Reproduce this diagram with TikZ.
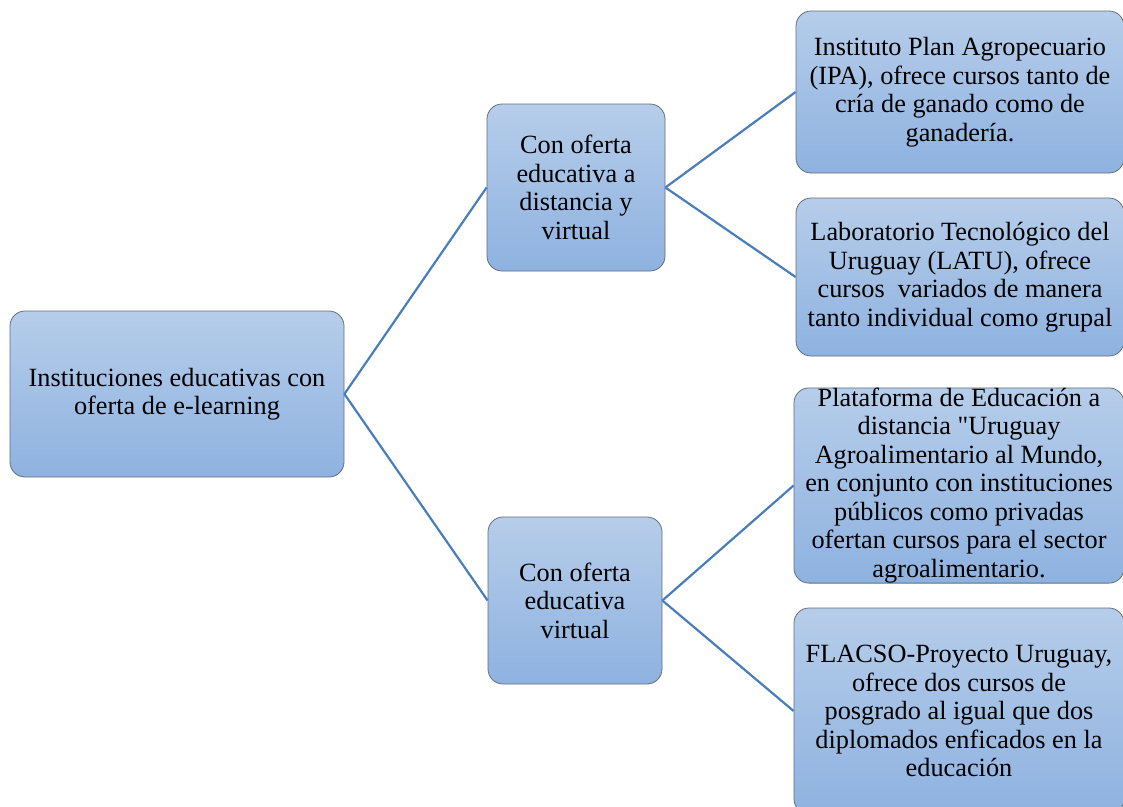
\documentclass[tikz,border=0pt]{standalone}
\usepackage{fontspec}
\setmainfont{Liberation Serif}[Ligatures=TeXOff]
\definecolor{boxtop}{RGB}{182,205,234}
\definecolor{boxbot}{RGB}{142,178,224}
\definecolor{boxline}{RGB}{100,110,125}
\definecolor{conn}{RGB}{74,126,187}
\begin{document}
\begin{tikzpicture}[x=1pt,y=-1pt,
  box/.style={rectangle, rounded corners=15pt, draw=boxline, line width=0.8pt,
    top color=boxtop, bottom color=boxbot, align=center, inner sep=0pt,
    font=\fontsize{26.3}{28.5}\selectfont, text=black},
  link/.style={draw=conn, line width=2.2pt}]
\useasboundingbox (0,0) rectangle (1123,806);
\clip (0,0) rectangle (1123,806);
\node[box, minimum width=334pt, minimum height=166pt] (root) at (177,394)
  {Instituciones educativas con\\oferta de e-learning};
\node[box, minimum width=178pt, minimum height=167pt] (m1) at (576,187.5)
  {Con oferta\\educativa a\\distancia y\\virtual};
\node[box, minimum width=174pt, minimum height=167pt] (m2) at (575,600.5)
  {Con oferta\\educativa\\virtual};
\node[box, minimum width=328pt, minimum height=162pt] (l1) at (960,92)
  {Instituto Plan Agropecuario\\(IPA), ofrece cursos tanto de\\cría de ganado como de\\ganadería.};
\node[box, minimum width=328pt, minimum height=158pt] (l2) at (960,277)
  {Laboratorio Tecnológico del\\Uruguay (LATU), ofrece\\cursos\ \ variados de manera\\tanto individual como grupal};
\node[box, minimum width=330pt, minimum height=195pt] (l3) at (959,485.5)
  {Plataforma de Educación a\\distancia "Uruguay\\Agroalimentario al Mundo,\\en conjunto con instituciones\\públicos como privadas\\ofertan cursos para el sector\\agroalimentario.};
\node[box, minimum width=330pt, minimum height=206pt] (l4) at (959,711)
  {FLACSO-Proyecto Uruguay,\\ofrece dos cursos de\\posgrado al igual que dos\\diplomados enficados en la\\educación};
\draw[link] (root.east) -- (m1.west);
\draw[link] (root.east) -- (m2.west);
\draw[link] (m1.east) -- (l1.west);
\draw[link] (m1.east) -- (l2.west);
\draw[link] (m2.east) -- (l3.west);
\draw[link] (m2.east) -- (l4.west);
\end{tikzpicture}
\end{document}
